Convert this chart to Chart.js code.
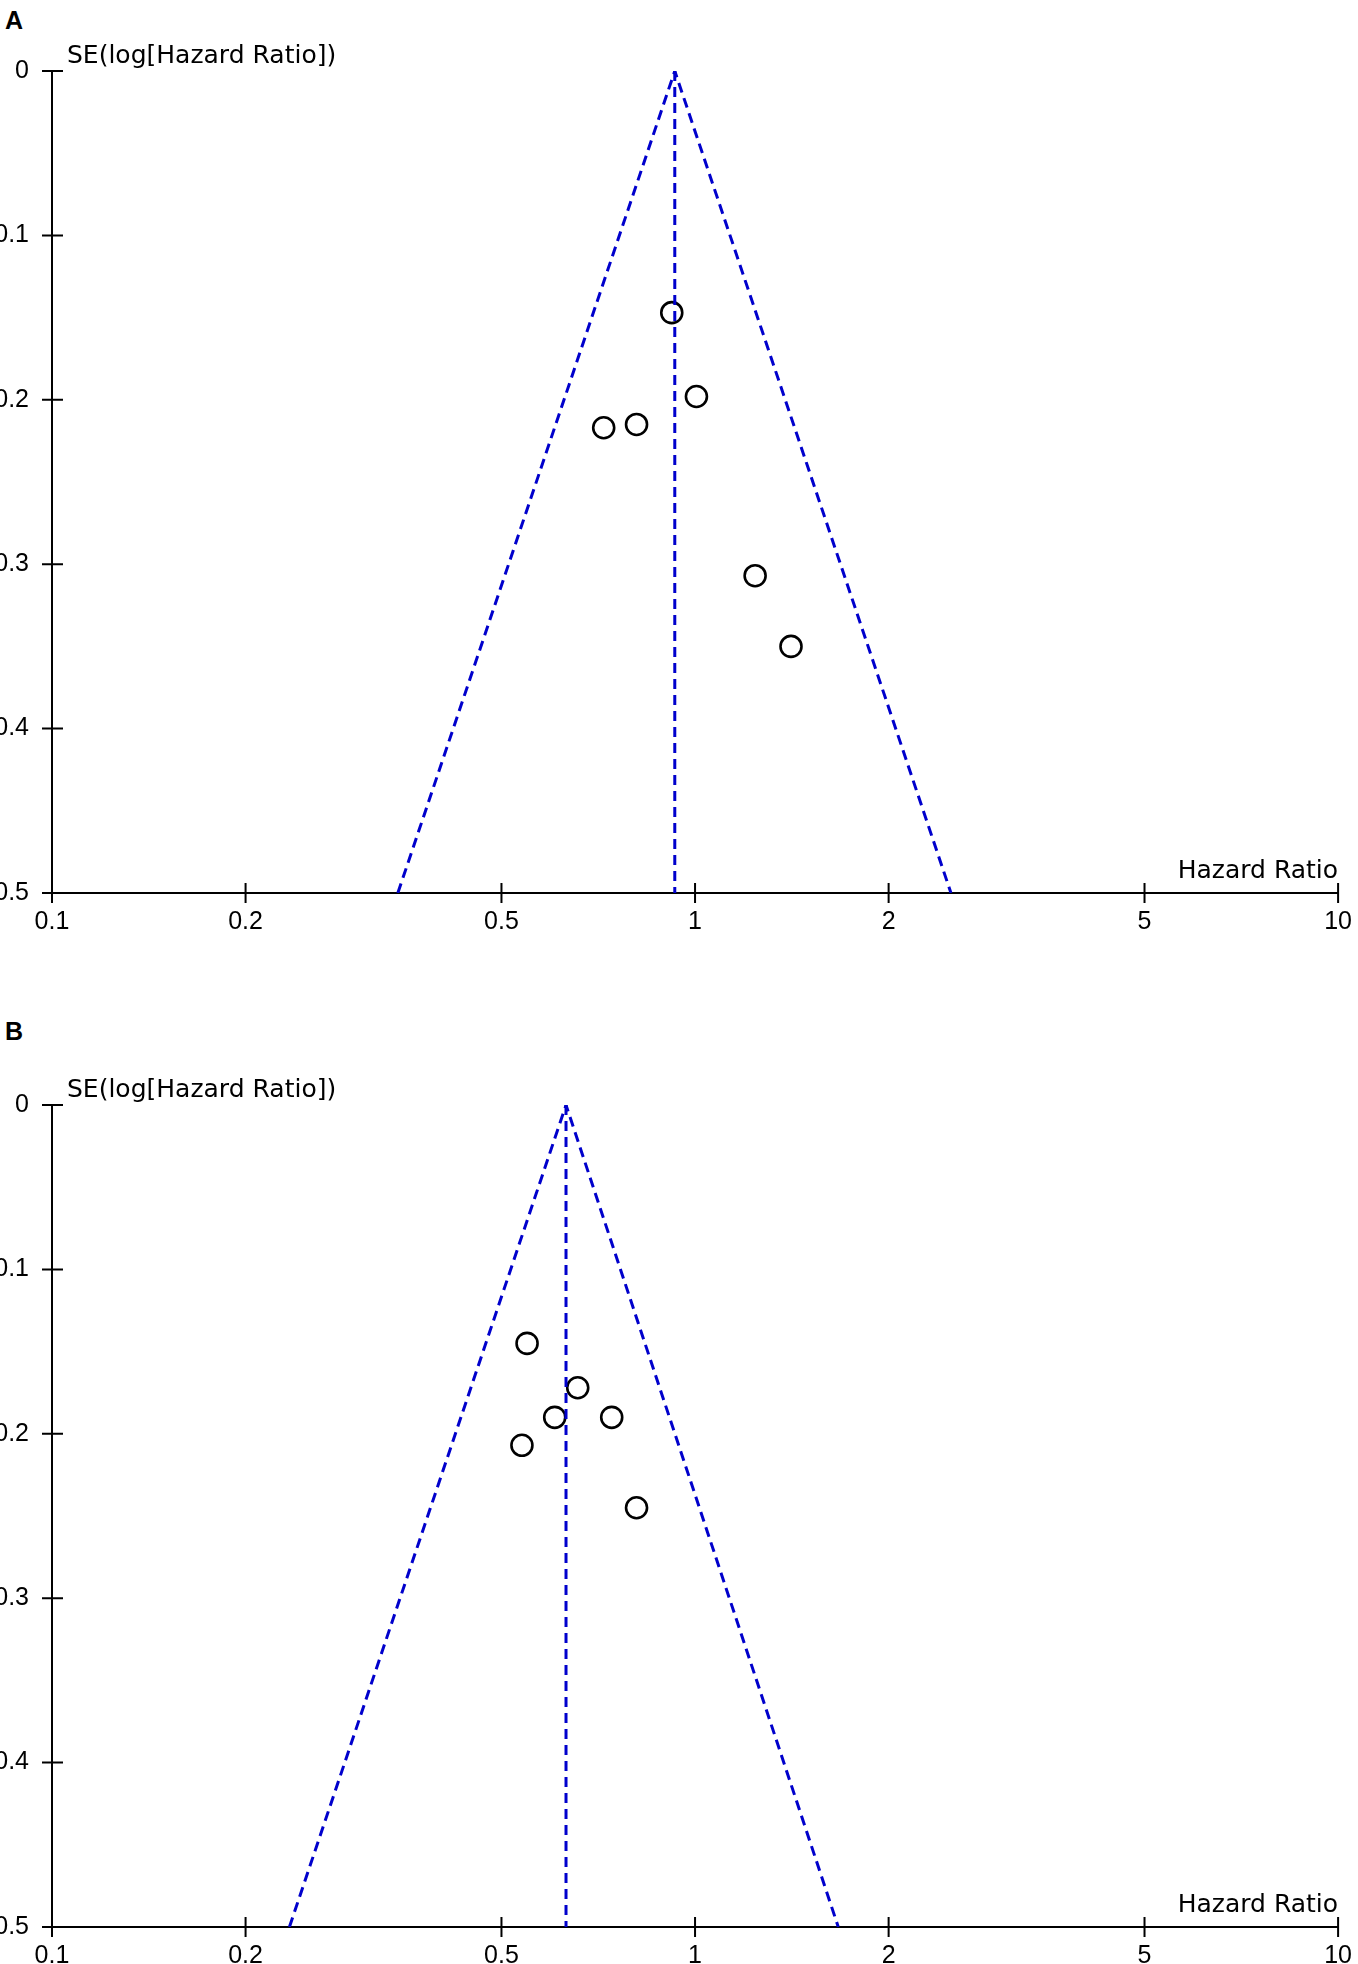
<!DOCTYPE html>
<html>
<head>
<meta charset="utf-8">
<script src="https://cdn.jsdelivr.net/npm/chart.js@4.4.1/dist/chart.umd.min.js"></script>
<style>
  html, body { margin: 0; padding: 0; background: #fff; overflow: hidden; }
  body { width: 1358px; height: 1964px; position: relative; }
  .panel { position: absolute; left: 0; width: 1358px; height: 930px; }
  .tag { position: absolute; left: 5px; font: bold 25px "Liberation Sans", Arial, sans-serif; line-height: 25px; color: #000; }
</style>
</head>
<body>
<div class="tag" style="top:8px">A</div>
<div class="panel" style="top:0"><canvas id="chartA"></canvas></div>
<div class="tag" style="top:1019px">B</div>
<div class="panel" style="top:1034px"><canvas id="chartB"></canvas></div>
<script>
// axis ticks
const hrTicks = [0.1, 0.2, 0.5, 1, 2, 5, 10];
const seTicks = [0, 0.1, 0.2, 0.3, 0.4, 0.5];

// panel A
const studyHrA = [0.92, 1.005, 0.721, 0.811, 1.24, 1.41];
const studySeA = [0.147, 0.198, 0.217, 0.215, 0.307, 0.350];
const funnelHrA = [0.345, 0.93, 2.50];
const funnelSeA = [0.5, 0, 0.5];
const pooledHrA = [0.93, 0.93];

// panel B
const studyHrB = [0.548, 0.657, 0.605, 0.742, 0.538, 0.811];
const studySeB = [0.145, 0.172, 0.190, 0.190, 0.207, 0.245];
const funnelHrB = [0.234, 0.63, 1.67];
const funnelSeB = [0.5, 0, 0.5];
const pooledHrB = [0.63, 0.63];

const pooledSe = [0, 0.5];

const TICKFONT = { family: '"Liberation Sans", Arial, sans-serif', size: 25 };
const BLUE = '#0000cc';

/**
 * axisMarks: Striche quer über die Achsen und die Achsentitel
 */
const axisMarks = {
  id: 'axisMarks',
  afterDraw(chart, args, opts) {
    const { ctx, chartArea: a, scales: { x, y } } = chart;
    ctx.save();
    ctx.strokeStyle = '#000';
    ctx.lineWidth = 2;
    ctx.beginPath();
    x.ticks.forEach((t) => {
      const px = x.getPixelForValue(t.value);
      ctx.moveTo(px, a.bottom - 10);
      ctx.lineTo(px, a.bottom + 10);
    });
    y.ticks.forEach((t) => {
      const py = y.getPixelForValue(t.value);
      ctx.moveTo(a.left - 10, py);
      ctx.lineTo(a.left + 11, py);
    });
    ctx.stroke();
    ctx.fillStyle = '#000';
    ctx.font = '25px "DejaVu Sans", sans-serif';
    ctx.textBaseline = 'alphabetic';
    ctx.textAlign = 'left';
    ctx.fillText(opts.yTitle, a.left + 15, a.top - 8);
    ctx.textAlign = 'right';
    ctx.fillText(opts.xTitle, a.right, a.bottom - 15);
    ctx.restore();
  }
};

function toPoints(xs, ys) {
  return xs.map((v, i) => ({ x: v, y: ys[i] }));
}

/**
 * initFunnel: Funnel-Plot für ein Panel
 */
function initFunnel(id, studyHr, studySe, funnelHr, funnelSe, pooledHr) {
  const ctx = document.getElementById(id).getContext('2d');
  return new Chart(ctx, {
    type: 'scatter',
    data: {
      datasets: [{
        label: 'funnel',
        data: toPoints(funnelHr, funnelSe),
        showLine: true,
        borderColor: BLUE,
        borderWidth: 3,
        borderDash: [10, 6],
        pointRadius: 0
      }, {
        label: 'pooled',
        data: toPoints(pooledHr, pooledSe),
        showLine: true,
        borderColor: BLUE,
        borderWidth: 3,
        borderDash: [10, 6],
        pointRadius: 0
      }, {
        label: 'studies',
        data: toPoints(studyHr, studySe),
        pointStyle: 'circle',
        pointRadius: 10.5,
        pointBorderWidth: 2.6,
        borderColor: '#000',
        backgroundColor: 'rgba(0,0,0,0)'
      }]
    },
    options: {
      responsive: true,
      maintainAspectRatio: false,
      animation: false,
      events: [],
      layout: { padding: { top: 71, right: 17, left: 0, bottom: 0 } },
      plugins: {
        legend: { display: false },
        tooltip: { enabled: false },
        axisMarks: { yTitle: 'SE(log[Hazard Ratio])', xTitle: 'Hazard Ratio' }
      },
      scales: {
        x: {
          type: 'logarithmic',
          position: 'bottom',
          min: 0.1,
          max: 10,
          afterBuildTicks: (s) => { s.ticks = hrTicks.map((v) => ({ value: v })); },
          afterFit: (s) => { s.height = 37; },
          ticks: {
            color: '#000',
            font: TICKFONT,
            padding: 6,
            maxRotation: 0,
            autoSkip: false,
            callback: (v) => String(v)
          },
          grid: { display: false },
          border: { display: true, color: '#000', width: 2 }
        },
        y: {
          type: 'linear',
          reverse: true,
          min: 0,
          max: 0.5,
          afterBuildTicks: (s) => { s.ticks = seTicks.map((v) => ({ value: v })); },
          afterFit: (s) => { s.width = 52; },
          ticks: {
            color: '#000',
            font: TICKFONT,
            padding: 15,
            callback: (v) => String(v)
          },
          grid: { display: false },
          border: { display: true, color: '#000', width: 2 }
        }
      }
    },
    plugins: [axisMarks]
  });
}

initFunnel('chartA', studyHrA, studySeA, funnelHrA, funnelSeA, pooledHrA);
initFunnel('chartB', studyHrB, studySeB, funnelHrB, funnelSeB, pooledHrB);
</script>
</body>
</html>
